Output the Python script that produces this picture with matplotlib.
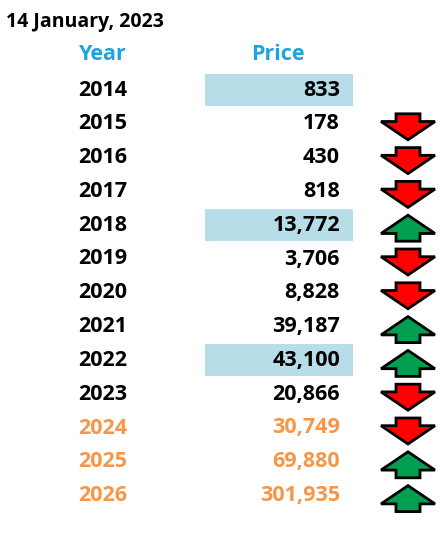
import matplotlib
matplotlib.use("Agg")
import matplotlib.pyplot as plt
from matplotlib.patches import Polygon, Rectangle

title = "14 January, 2023"
years = ["2014","2015","2016","2017","2018","2019","2020","2021","2022","2023","2024","2025","2026"]
prices = [833,178,430,818,13772,3706,8828,39187,43100,20866,30749,69880,301935]
directions = [None,"down","down","down","up","down","down","up","up","down","down","up","up"]
highlight = ["2014","2018","2022"]
forecast = ["2024","2025","2026"]

fig = plt.figure(figsize=(4.43,5.36), dpi=100)
ax = fig.add_axes([0,0,1,1])
ax.set_xlim(0,443); ax.set_ylim(536,0); ax.axis("off")
ax.text(6,22,title,fontsize=14,fontweight="bold",va="center",ha="left",family="Open Sans")
blue = "#1fa3e0"
ax.text(103,55,"Year",fontsize=15.5,fontweight="bold",color=blue,ha="center",va="center",family="Open Sans")
ax.text(278,55,"Price",fontsize=15.5,fontweight="bold",color=blue,ha="center",va="center",family="Open Sans")

def arrow(cx,cy,up,color):
    hw, sw, h, hh = 27, 12, 13, 7
    s = -1 if up else 1
    pts = [(cx-sw,cy-s*h),(cx+sw,cy-s*h),(cx+sw,cy-s*(h-hh*1.1)),
           (cx+hw,cy-s*(h-hh*1.1)),(cx,cy+s*h),(cx-hw,cy-s*(h-hh*1.1)),
           (cx-sw,cy-s*(h-hh*1.1))]
    ax.add_patch(Polygon(pts,closed=True,facecolor=color,edgecolor="black",lw=2))

for i,(y,p,d) in enumerate(zip(years,prices,directions)):
    cy = 90 + i*33.8
    if y in highlight:
        ax.add_patch(Rectangle((205,cy-16),148,32,facecolor="#b7dde8",edgecolor="none"))
    col = "#f79646" if y in forecast else "black"
    ax.text(103,cy,y,fontsize=15.5,fontweight="bold",color=col,ha="center",va="center",family="Open Sans")
    ax.text(340,cy,f"{p:,}",fontsize=15.5,fontweight="bold",color=col,ha="right",va="center",family="Open Sans")
    if d:
        arrow(408,cy+3,d=="up","#00a050" if d=="up" else "#ff0000")

fig.savefig("out.png",dpi=100)
